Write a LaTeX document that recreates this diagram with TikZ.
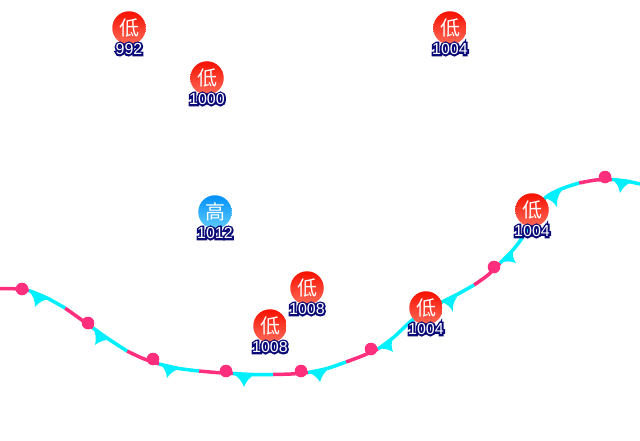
\documentclass[tikz,border=0pt]{standalone}
\usepackage{fontspec}
\setmainfont{Liberation Sans}
\newfontfamily\cjkfont{Noto Sans CJK SC}
\newfontfamily\halofont[FakeBold=22]{Liberation Sans}
\definecolor{warmpink}{HTML}{FF2F7E}
\definecolor{coldcyan}{HTML}{00F0FF}
\definecolor{halonavy}{HTML}{0A0A78}
\definecolor{lowtop}{HTML}{F81000}
\definecolor{lowmid}{HTML}{FF2008}
\definecolor{lowbot}{HTML}{FF6A58}
\definecolor{hightop}{HTML}{0090F8}
\definecolor{highmid}{HTML}{08A0FF}
\definecolor{highbot}{HTML}{60CCFF}
\newcommand{\halotext}[1]{\rlap{\halofont\color{halonavy}#1}{\color{white}#1}}
\newcommand{\barb}[3]{\fill[coldcyan] (#1) to[bend left=20] (#3) to[bend left=20] (#2) -- cycle;}

\begin{document}
\begin{tikzpicture}[x=1pt,y=-1pt,
  warm/.style={warmpink,line width=3.5pt},
  cold/.style={coldcyan,line width=3.5pt},
  lowc/.style={circle,minimum size=33.5pt,inner sep=0pt,top color=lowtop,middle color=lowmid,bottom color=lowbot,text=white,font=\cjkfont\fontsize{20}{20}\selectfont},
  highc/.style={circle,minimum size=33.5pt,inner sep=0pt,top color=hightop,middle color=highmid,bottom color=highbot,text=white,font=\cjkfont\fontsize{20}{20}\selectfont},
  val/.style={inner sep=0pt,font=\fontsize{16}{16}\selectfont}]
\useasboundingbox (0,0) rectangle (640,440);

% warm pieces
\draw[warm] plot[smooth] coordinates {(0,288.5)   (15,288.8)  (29,290.5)};
\draw[warm] plot[smooth] coordinates {(65,308)    (79,318)    (93,328)};
\draw[warm] plot[smooth] coordinates {(127,351)   (143,358.5) (159,364)};
\draw[warm] plot[smooth] coordinates {(199,371)   (216,372.5) (233,373.5)};
\draw[warm] plot[smooth] coordinates {(273,374.5) (291,374)   (308,372.5)};
\draw[warm] plot[smooth] coordinates {(346,362)   (362,356)   (378,349)};
\draw[warm] plot[smooth] coordinates {(474,285)   (488,275)   (500,263)};
\draw[warm] plot[smooth] coordinates {(579,183)   (596,180)   (612,179.5)};
% cold pieces
\draw[cold] plot[smooth] coordinates {(29,290.5)  (47,298)    (65,308)};
\draw[cold] plot[smooth] coordinates {(93,328)    (110,340)   (127,351)};
\draw[cold] plot[smooth] coordinates {(159,364)   (179,368.5) (199,371)};
\draw[cold] plot[smooth] coordinates {(233,373.5) (253,374.5) (273,374.5)};
\draw[cold] plot[smooth] coordinates {(308,372.5) (327,368.5) (346,362)};
\draw[cold] plot[smooth] coordinates {(378,349)   (394,337)   (410,322)   (426,310) (442,302) (458,294) (474,285)};
\draw[cold] plot[smooth] coordinates {(500,263)   (512,251)   (522,238)   (533,217) (545,198) (561,189) (579,183)};
\draw[cold] plot[smooth] coordinates {(612,179.5) (626,181)   (640,184)};

% warm bumps
\foreach \x/\y in {22/289,88/323,153/359,226/371,301/371,371/349,494/267,605/177}
  \fill[warmpink] (\x,\y) circle (6.3pt);

% cold barbs
\barb{29,291}{49,299}{35,307}
\barb{93,328}{110,340}{95,345}
\barb{160,364}{179,369}{167,378}
\barb{233,374}{255,374.5}{244,387}
\barb{308,372.5}{331,367}{320,382}
\barb{378,349}{393,338}{393,352}
\barb{442,302}{457,297}{453,312}
\barb{500,263}{513,250}{516,263}
\barb{545,198}{562,190}{557,207}
\barb{612,179}{632,182}{620,193}

% pressure centres
\foreach \i/\x/\y/\p in {1/129/28/992,2/207/78/1000,3/450/28/1004,4/307/288/1008,5/270/326/1008,6/426/308/1004,7/532/210/1004}{
  \node[lowc] (low-\i) at (\x,\y) {低};
  \node[val] (val-\i) at ([yshift=-21pt]low-\i.center) {\halotext{\p}};
}
\node[highc] (high-1) at (215,212) {高};
\node[val] (val-8) at ([yshift=-21pt]high-1.center) {\halotext{1012}};
\end{tikzpicture}
\end{document}
